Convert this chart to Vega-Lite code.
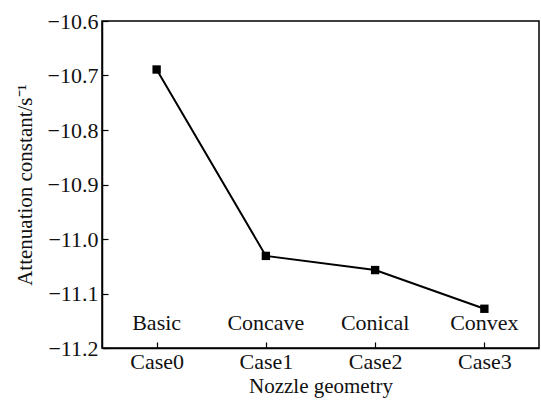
{
  "$schema": "https://vega.github.io/schema/vega-lite/v6.json",
  "autosize": {"type": "none"},
  "padding": {"left": 102, "top": 21, "right": 2, "bottom": 53},
  "width": 437,
  "height": 327,
  "background": "white",
  "config": {
    "view": {"stroke": "#000", "strokeWidth": 1.5},
    "font": "Times New Roman, Liberation Serif, serif",
    "axis": {
      "labelFont": "Times New Roman, Liberation Serif, serif",
      "titleFont": "Times New Roman, Liberation Serif, serif",
      "labelFontSize": 22,
      "titleFontSize": 21,
      "titleFontWeight": "normal",
      "labelColor": "#111",
      "titleColor": "#111",
      "domainColor": "#000",
      "domainWidth": 1.5,
      "tickColor": "#000",
      "tickWidth": 1.2,
      "grid": false
    }
  },
  "data": {
    "values": [
      {"case": "Case0", "geometry": "Basic", "value": -10.689},
      {"case": "Case1", "geometry": "Concave", "value": -11.031},
      {"case": "Case2", "geometry": "Conical", "value": -11.057},
      {"case": "Case3", "geometry": "Convex", "value": -11.128}
    ]
  },
  "encoding": {
    "x": {
      "field": "case",
      "type": "ordinal",
      "sort": null,
      "scale": {"type": "point", "padding": 0.5},
      "axis": {
        "title": "Nozzle geometry",
        "labelAngle": 0,
        "tickSize": -6,
        "labelPadding": 9,
        "titlePadding": 3
      }
    }
  },
  "layer": [
    {
      "mark": {"type": "line", "color": "#000", "strokeWidth": 2},
      "encoding": {
        "y": {
          "field": "value",
          "type": "quantitative",
          "scale": {"domain": [-11.2, -10.6], "nice": false, "zero": false},
          "axis": {
            "title": "Attenuation constant/s⁻¹",
            "values": [-11.2, -11.1, -11.0, -10.9, -10.8, -10.7, -10.6],
            "format": ".1f",
            "tickSize": -6,
            "labelPadding": 10,
            "titlePadding": 12
          }
        }
      }
    },
    {
      "mark": {"type": "square", "color": "#000", "filled": true, "opacity": 1, "size": 70},
      "encoding": {"y": {"field": "value", "type": "quantitative"}}
    },
    {
      "mark": {"type": "text", "font": "Times New Roman, Liberation Serif, serif", "fontSize": 22, "color": "#111", "baseline": "middle"},
      "encoding": {
        "y": {"datum": -11.155, "type": "quantitative"},
        "text": {"field": "geometry"}
      }
    }
  ]
}
